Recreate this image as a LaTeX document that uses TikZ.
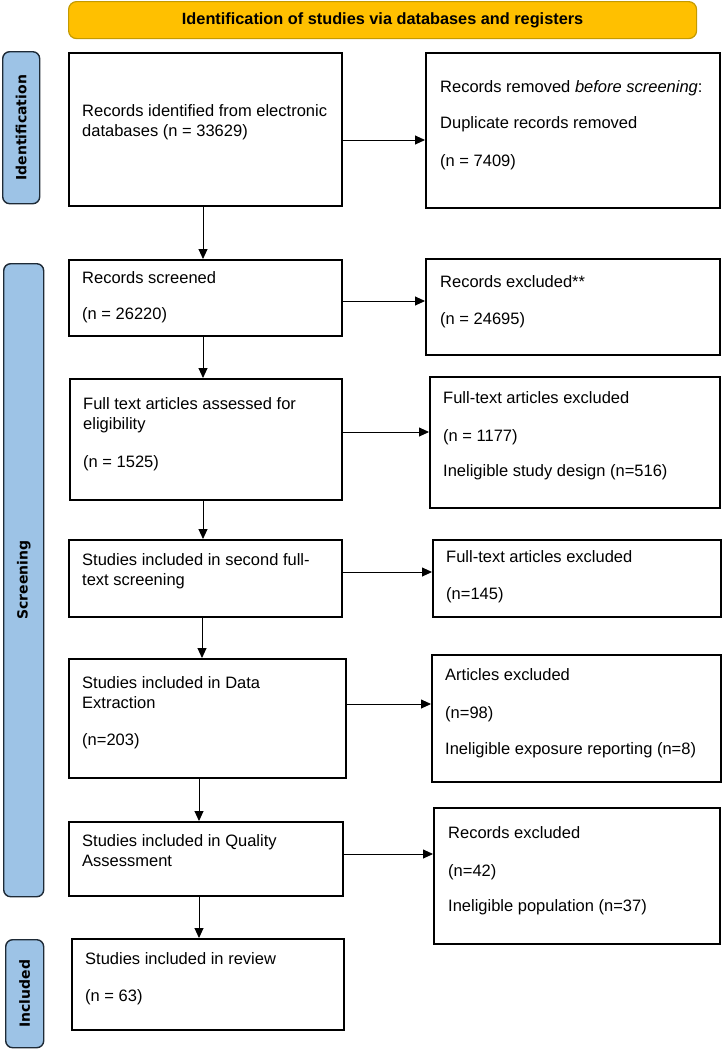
\documentclass[tikz,border=0pt]{standalone}
\usepackage{fontspec}
\setmainfont{Liberation Sans}
\newfontfamily\labfont{DejaVu Sans}
\usetikzlibrary{arrows.meta}
\definecolor{hdrfill}{HTML}{FFC000}
\definecolor{hdrdraw}{HTML}{C49A00}
\definecolor{labfill}{HTML}{9DC3E6}
\definecolor{labdraw}{HTML}{1E2A36}
\tikzset{
  box/.style={draw=black, line width=1.6pt, anchor=north west, inner sep=0pt},
  txt/.style={anchor=north west, inner sep=0pt, align=left, font=\fontsize{16.5}{20}\selectfont},
  arr/.style={draw=black, line width=0.9pt, -{Triangle[length=10pt,width=9pt]}},
  sidelab/.style={fill=labfill, draw=labdraw, line width=1.4pt, rounded corners=7pt, anchor=north west, inner sep=0pt},
  labtxt/.style={rotate=90, font=\labfont\bfseries\fontsize{14}{16}\selectfont, inner sep=0pt},
}
\newcommand{\bx}[5]{\node[box, minimum width=#4-#2, minimum height=#5-#3] (#1) at (#2,#3) {};}
\begin{document}
\begin{tikzpicture}[x=1pt,y=-1pt]
\useasboundingbox (0,0) rectangle (722,1050);
% header
\node[fill=hdrfill, draw=hdrdraw, line width=1.2pt, rounded corners=8pt, anchor=north west, minimum width=628pt, minimum height=37pt, inner sep=0pt,
  font=\bfseries\fontsize{16.3}{20}\selectfont] (hdr) at (68,1) {Identification of studies via databases and registers};
% side labels
\node[sidelab, minimum width=37pt, minimum height=152pt] (lid) at (2,51) {};
\node[labtxt] (lidt) at (lid.center) {Identification};
\node[sidelab, minimum width=40pt, minimum height=633pt] (lsc) at (3,263) {};
\node[labtxt] (lsct) at (lsc.center) {Screening};
\node[sidelab, minimum width=38pt, minimum height=108pt] (lin) at (5,939) {};
\node[labtxt] (lint) at (lin.center) {Included};
% boxes
\bx{b1}{68}{52}{341}{205}
\bx{r1}{425}{52}{719}{207}
\bx{b2}{68}{259}{341}{335}
\bx{r2}{425}{258}{719}{354}
\bx{b3}{69}{378}{341}{499}
\bx{r3}{429}{376}{719}{507}
\bx{b4}{68}{539}{341}{616}
\bx{r4}{432}{539}{720}{616}
\bx{b5}{68}{658}{345}{777}
\bx{r5}{431}{654}{720}{781}
\bx{b6}{68}{821}{342}{895}
\bx{r6}{433}{807}{719}{943}
\bx{b7}{71}{938}{343}{1029}
% texts
\node[txt] (b1t) at (82,102) {\strut Records identified from electronic\\databases (n = 33629)};
\node[txt] (r1t) at (440,78) {\strut Records removed \textit{before screening}:\\[16pt]Duplicate records removed\\[18pt](n = 7409)};
\node[txt] (b2t) at (82,269) {\strut Records screened\\[16pt](n = 26220)};
\node[txt] (r2t) at (440,273) {\strut Records excluded**\\[17pt](n = 24695)};
\node[txt] (b3t) at (83,395) {\strut Full text articles assessed for\\eligibility\\[18pt](n = 1525)};
\node[txt] (r3t) at (443,389) {\strut Full-text articles excluded\\[18pt](n = 1177)\\[15pt]Ineligible study design (n=516)};
\node[txt] (b4t) at (82,551) {\strut Studies included in second full-\\text screening};
\node[txt] (r4t) at (446,548) {\strut Full-text articles excluded\\[17pt](n=145)};
\node[txt] (b5t) at (82,674) {\strut Studies included in Data\\Extraction\\[17pt](n=203)};
\node[txt] (r5t) at (445,666) {\strut Articles excluded\\[18pt](n=98)\\[16pt]Ineligible exposure reporting (n=8)};
\node[txt] (b6t) at (82,832) {\strut Studies included in Quality\\Assessment};
\node[txt] (r6t) at (448,824) {\strut Records excluded\\[18pt](n=42)\\[15pt]Ineligible population (n=37)};
\node[txt] (b7t) at (85,950) {\strut Studies included in review\\[17pt](n = 63)};
% horizontal arrows
\draw[arr] (b1.east |- 0,140) -- (r1.west |- 0,140);
\draw[arr] (b2.east |- 0,301) -- (r2.west |- 0,301);
\draw[arr] (b3.east |- 0,432) -- (r3.west |- 0,432);
\draw[arr] (b4.east |- 0,572) -- (r4.west |- 0,572);
\draw[arr] (b5.east |- 0,704) -- (r5.west |- 0,704);
\draw[arr] (b6.east |- 0,854) -- (r6.west |- 0,854);
% vertical arrows
\draw[arr] (b1.south -| 203,0) -- (b2.north -| 203,0);
\draw[arr] (b2.south -| 203,0) -- (b3.north -| 203,0);
\draw[arr] (b3.south -| 203,0) -- (b4.north -| 203,0);
\draw[arr] (b4.south -| 202,0) -- (b5.north -| 202,0);
\draw[arr] (b5.south -| 199,0) -- (b6.north -| 199,0);
\draw[arr] (b6.south -| 199,0) -- (b7.north -| 199,0);
\end{tikzpicture}
\end{document}
